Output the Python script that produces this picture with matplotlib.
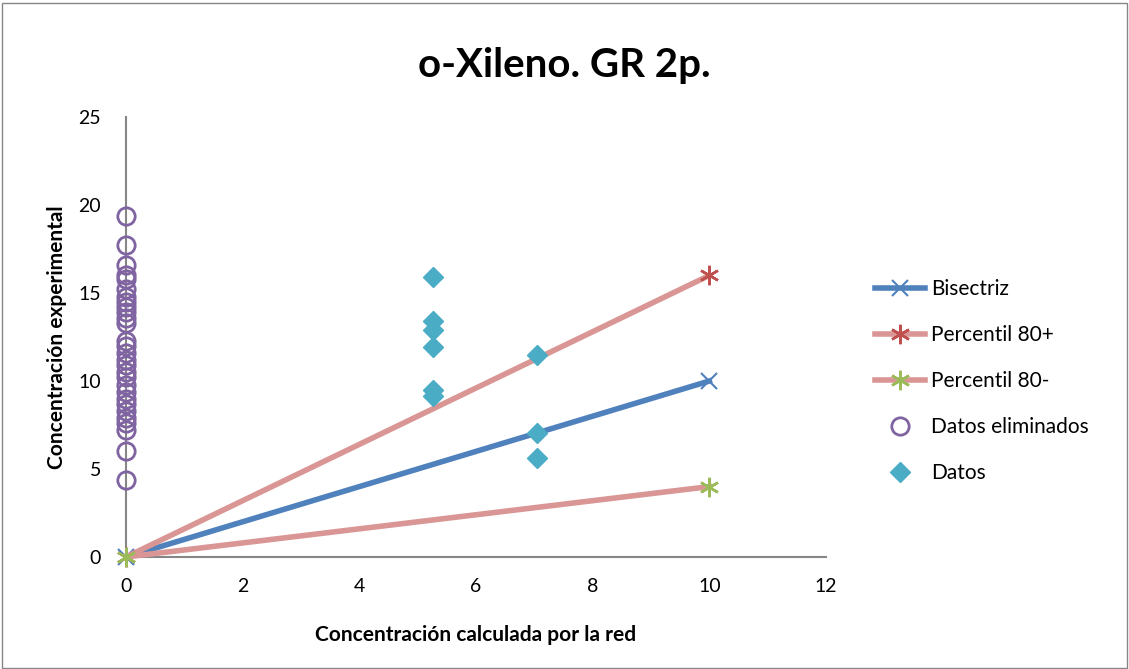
import matplotlib.pyplot as plt

plt.rcParams['font.family'] = ['Lato', 'DejaVu Sans']

# reference lines
line_x = [0, 10]
bisectriz = [0, 10]
perc_plus = [0, 16]
perc_minus = [0, 4]

# removed data (all at x = 0)
elim_y = [19.4, 17.7, 16.6, 16.0, 15.8, 15.2, 14.8, 14.5, 14.2, 13.9, 13.6, 13.3,
          12.3, 12.0, 11.6, 11.2, 10.9, 10.5, 10.2, 9.8, 9.4, 9.0, 8.7, 8.3,
          7.9, 7.6, 7.2, 6.0, 4.4]
elim_x = [0] * len(elim_y)

# kept data
datos_x = [5.27, 5.27, 5.27, 5.27, 5.27, 5.27, 7.05, 7.05, 7.05]
datos_y = [15.9, 13.4, 12.9, 11.95, 9.5, 9.15, 11.45, 7.05, 5.6]

fig = plt.figure(figsize=(11.29, 6.69), dpi=100)
ax = fig.add_axes([126 / 1129, 1 - 557 / 669, 700 / 1129, 440 / 669])

blue = '#4F81BD'
pink = '#D99694'

ax.plot(line_x, bisectriz, color=blue, lw=4, marker='x', ms=12, mec=blue, mew=1.5,
        label='Bisectriz', zorder=3)
ax.plot(line_x, perc_plus, color=pink, lw=4, marker=(6, 2, 0), ms=14, mec='#C0504D',
        mew=1.8, label='Percentil 80+', zorder=3)
ax.plot(line_x, perc_minus, color=pink, lw=4, marker=(6, 2, 0), ms=14, mec='#9BBB59',
        mew=1.8, label='Percentil 80-', zorder=3)
ax.plot(elim_x, elim_y, ls='none', marker='o', ms=12.5, mfc='none', mec='#8064A2',
        mew=2, label='Datos eliminados', zorder=4)
ax.plot(datos_x, datos_y, ls='none', marker='D', ms=10.5, color='#4BACC6',
        label='Datos', zorder=5)

ax.set_xlim(0, 12)
ax.set_ylim(0, 25)
ax.set_xticks(range(0, 13, 2))
ax.set_yticks(range(0, 26, 5))
for l in ax.lines:
    l.set_clip_on(False)

for s in ['top', 'right']:
    ax.spines[s].set_visible(False)
for s in ['left', 'bottom']:
    ax.spines[s].set_color('#868686')
    ax.spines[s].set_linewidth(1.5)
ax.tick_params(axis='x', length=0, labelsize=14, pad=15)
ax.tick_params(axis='y', length=0, labelsize=14, pad=18)

ax.set_xlabel('Concentración calculada por la red', fontsize=15, fontweight='bold', labelpad=22)
ax.set_ylabel('Concentración experimental', fontsize=15, fontweight='bold', labelpad=8)
fig.text(0.5, 1 - 65 / 669, 'o-Xileno. GR 2p.', fontsize=29, fontweight='bold',
         ha='center', va='center')

ax.legend(loc='center left', bbox_to_anchor=(856 / 1129, 1 - 381 / 669),
          bbox_transform=fig.transFigure, frameon=False, fontsize=15,
          labelspacing=1.25, handlelength=2.4, handletextpad=0.3)

fig.patches.append(plt.Rectangle((0.002, 0.002), 0.996, 0.994, transform=fig.transFigure,
                                 fill=False, ec='#868686', lw=1))

fig.savefig('out.png', dpi=100)
